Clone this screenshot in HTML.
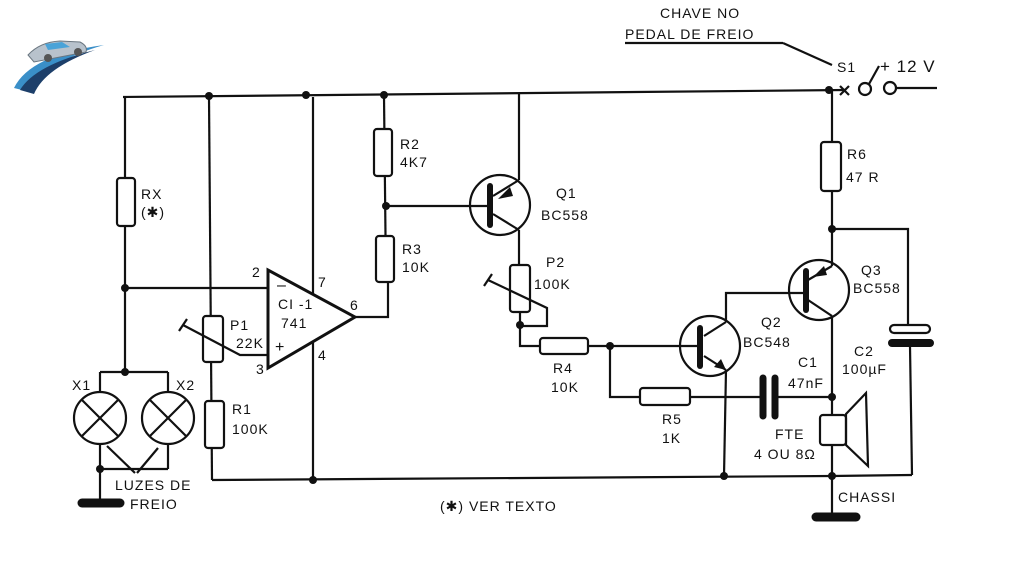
<!DOCTYPE html>
<html><head><style>
html,body{margin:0;padding:0;background:#fff;}
svg{display:block;}
text{font-family:"Liberation Sans",sans-serif;font-size:14px;fill:#111;letter-spacing:1px;}
</style></head><body>
<svg width="1024" height="576" viewBox="0 0 1024 576" xmlns="http://www.w3.org/2000/svg">
<rect width="1024" height="576" fill="#fff"/>
<!-- logo -->
<g>
<path d="M14,88 Q30,55 104,45 Q50,60 30,92 Z" fill="#3a8fc8"/>
<path d="M20,90 Q35,65 95,50 Q45,68 34,94 Z" fill="#1d3f6a"/>
<path d="M28,55 Q40,42 60,41 L80,42 Q88,46 86,52 L34,62 Z" fill="#b8c2cc" stroke="#6a7680" stroke-width="1"/>
<path d="M45,44 L62,42 L70,47 L48,50 Z" fill="#4aa3d8"/>
<circle cx="48" cy="58" r="4" fill="#555"/><circle cx="78" cy="52" r="4" fill="#555"/>
</g>
<g stroke="#111" stroke-width="2.2" fill="none">
<!-- top rail -->
<line x1="123" y1="97" x2="845" y2="90"/>
<line x1="840" y1="86" x2="849" y2="95"/><line x1="849" y1="86" x2="840" y2="95"/>
<circle cx="865" cy="89" r="6"/>
<line x1="869" y1="84" x2="879" y2="66"/>
<circle cx="890" cy="88" r="6"/>
<line x1="896" y1="88" x2="937" y2="88"/>
<line x1="625" y1="43" x2="783" y2="43"/>
<line x1="783" y1="43" x2="832" y2="65"/>
<!-- RX branch -->
<line x1="125" y1="97" x2="125" y2="372"/>
<rect x="117" y="178" width="18" height="48" rx="3" fill="#fff"/>
<line x1="125" y1="288" x2="268" y2="288"/>
<line x1="100" y1="372" x2="168" y2="372"/>
<line x1="100" y1="372" x2="100" y2="392"/>
<line x1="168" y1="372" x2="168" y2="392"/>
<circle cx="100" cy="418" r="26"/>
<circle cx="168" cy="418" r="26"/>
<line x1="82" y1="400" x2="118" y2="436"/><line x1="118" y1="400" x2="82" y2="436"/>
<line x1="150" y1="400" x2="186" y2="436"/><line x1="186" y1="400" x2="150" y2="436"/>
<line x1="100" y1="444" x2="100" y2="503"/>
<line x1="100" y1="469" x2="168" y2="469"/>
<line x1="168" y1="444" x2="168" y2="469"/>
<line x1="107" y1="446" x2="135" y2="473"/><line x1="158" y1="448" x2="137" y2="473"/>
<!-- P1 / R1 -->
<line x1="209" y1="97" x2="212" y2="480"/>
<rect x="203" y="316" width="20" height="46" rx="3" fill="#fff"/>
<rect x="205" y="401" width="19" height="47" rx="3" fill="#fff"/>
<polyline points="183,325 240,355 268,355"/>
<line x1="179" y1="331" x2="187" y2="319"/>
<line x1="212" y1="480" x2="832" y2="476"/>
<!-- opamp -->
<polygon points="268,270 268,368 355,317" stroke-width="3" fill="#fff"/>
<line x1="313" y1="97" x2="313" y2="294"/>
<line x1="313" y1="342" x2="313" y2="480"/>
<polyline points="355,317 388,317 388,282"/>
<!-- R2 R3 -->
<line x1="384" y1="96" x2="386" y2="282"/>
<rect x="374" y="129" width="18" height="47" rx="3" fill="#fff"/>
<rect x="376" y="236" width="18" height="46" rx="3" fill="#fff"/>
<line x1="386" y1="206" x2="490" y2="206"/>
<!-- Q1 -->
<circle cx="500" cy="205" r="30"/>
<line x1="519" y1="94" x2="519" y2="180"/>
<line x1="519" y1="180" x2="493" y2="196"/>
<line x1="493" y1="214" x2="519" y2="230"/>
<line x1="519" y1="230" x2="519" y2="265"/>
<!-- P2 -->
<rect x="510" y="265" width="20" height="47" rx="3" fill="#fff"/>
<polyline points="488,280 547,308 547,326 520,326"/>
<line x1="484" y1="286" x2="492" y2="274"/>
<polyline points="520,312 520,346 540,346"/>
<rect x="540" y="338" width="48" height="16" rx="3" fill="#fff"/>
<line x1="588" y1="346" x2="700" y2="346"/>
<polyline points="610,346 610,397 640,397"/>
<rect x="640" y="388" width="50" height="17" rx="3" fill="#fff"/>
<line x1="690" y1="397" x2="763" y2="397"/>
<line x1="775" y1="397" x2="832" y2="397"/>
<!-- Q2 -->
<circle cx="710" cy="346" r="30"/>
<line x1="726" y1="322" x2="704" y2="336"/>
<line x1="704" y1="356" x2="726" y2="370"/>
<polyline points="726,322 726,293 805,293"/>
<line x1="726" y1="370" x2="724" y2="476"/>
<!-- Q3 -->
<circle cx="819" cy="290" r="30"/>
<line x1="832" y1="191" x2="832" y2="266"/>
<line x1="832" y1="266" x2="808" y2="280"/>
<line x1="808" y1="300" x2="832" y2="316"/>
<line x1="832" y1="316" x2="832" y2="415"/>
<line x1="832" y1="90" x2="832" y2="142"/>
<rect x="821" y="142" width="20" height="49" rx="3" fill="#fff"/>
<polyline points="832,229 908,229 908,328"/>
<rect x="890" y="325" width="40" height="8" rx="4" fill="#fff"/>
<line x1="910" y1="346" x2="912" y2="475"/>
<line x1="832" y1="476" x2="912" y2="475"/>
<!-- speaker -->
<rect x="820" y="415" width="26" height="30" rx="3" fill="#fff"/>
<polygon points="846,414 866,393 868,466 846,445"/>
<line x1="832" y1="445" x2="832" y2="517"/>
</g>
<!-- thick elements -->
<g stroke="#111" stroke-linecap="round" fill="none">
<line x1="490" y1="186" x2="490" y2="225" stroke-width="6"/>
<line x1="700" y1="328" x2="700" y2="366" stroke-width="6"/>
<line x1="806" y1="271" x2="806" y2="310" stroke-width="6"/>
<line x1="763" y1="378" x2="763" y2="416" stroke-width="7"/>
<line x1="775" y1="378" x2="775" y2="416" stroke-width="7"/>
<line x1="892" y1="343" x2="930" y2="343" stroke-width="8"/>
<line x1="82" y1="503" x2="120" y2="503" stroke-width="9"/>
<line x1="816" y1="517" x2="856" y2="517" stroke-width="9"/>
</g>
<!-- arrows -->
<g fill="#111">
<polygon points="498,199 510,187 513,196"/>
<polygon points="726,370 714,367 721,359"/>
<polygon points="813,277 824,266 827,275"/>
</g>
<!-- dots -->
<g fill="#111">
<circle cx="209" cy="96" r="4"/><circle cx="306" cy="95" r="4"/><circle cx="384" cy="95" r="4"/>
<circle cx="829" cy="90" r="4"/><circle cx="386" cy="206" r="4"/><circle cx="125" cy="288" r="4"/>
<circle cx="125" cy="372" r="4"/><circle cx="100" cy="469" r="4"/><circle cx="313" cy="480" r="4"/>
<circle cx="520" cy="325" r="4"/><circle cx="610" cy="346" r="4"/><circle cx="832" cy="229" r="4"/>
<circle cx="832" cy="397" r="4"/><circle cx="724" cy="476" r="4"/><circle cx="832" cy="476" r="4"/>
</g>
<!-- labels -->
<text x="660" y="18">CHAVE  NO</text>
<text x="625" y="39">PEDAL  DE  FREIO</text>
<text x="837" y="72">S1</text>
<text x="880" y="72" style="font-size:17px">+ 12 V</text>
<text x="141" y="199">RX</text>
<text x="141" y="217">(✱)</text>
<text x="400" y="149">R2</text><text x="400" y="167">4K7</text>
<text x="402" y="254">R3</text><text x="402" y="272">10K</text>
<text x="556" y="198">Q1</text><text x="541" y="220">BC558</text>
<text x="546" y="267">P2</text><text x="534" y="289">100K</text>
<text x="847" y="159">R6</text><text x="846" y="182">47 R</text>
<text x="861" y="275">Q3</text><text x="853" y="293">BC558</text>
<text x="761" y="327">Q2</text><text x="743" y="347">BC548</text>
<text x="798" y="367">C1</text><text x="788" y="388">47nF</text>
<text x="854" y="356">C2</text><text x="842" y="374">100µF</text>
<text x="553" y="373">R4</text><text x="551" y="392">10K</text>
<text x="662" y="424">R5</text><text x="662" y="443">1K</text>
<text x="775" y="439">FTE</text><text x="754" y="459">4  OU 8Ω</text>
<text x="838" y="502">CHASSI</text>
<text x="440" y="511">(✱)  VER  TEXTO</text>
<text x="252" y="277">2</text><text x="256" y="374">3</text>
<text x="318" y="287">7</text><text x="350" y="310">6</text><text x="318" y="360">4</text>
<text x="277" y="290" style="font-size:16px">–</text><text x="275" y="352" style="font-size:16px">+</text>
<text x="278" y="309">CI -1</text><text x="281" y="328">741</text>
<text x="230" y="330">P1</text><text x="236" y="348">22K</text>
<text x="232" y="414">R1</text><text x="232" y="434">100K</text>
<text x="72" y="390">X1</text><text x="176" y="390">X2</text>
<text x="115" y="490">LUZES  DE</text><text x="130" y="509">FREIO</text>
</svg>
</body></html>
